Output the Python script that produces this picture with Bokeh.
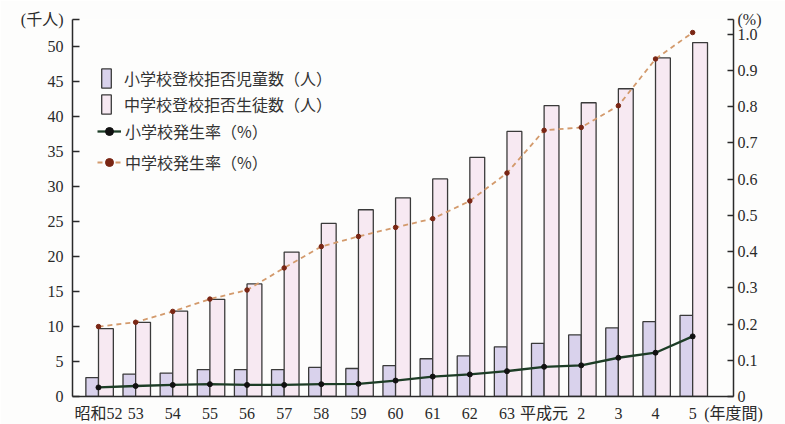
from bokeh.plotting import figure
from bokeh.models import (Range1d, LinearAxis, FixedTicker, Legend, LegendItem,
                          ColumnDataSource)
from bokeh.transform import dodge
from bokeh.embed import file_html
from bokeh.resources import INLINE

# School years (Showa 52 – Heisei 5)
years = ["昭和52", "53", "54", "55", "56", "57", "58", "59", "60", "61",
         "62", "63", "平成元", "2", "3", "4", "5"]

# Pupils refusing school (thousand persons)
elem_count = [2.7, 3.2, 3.35, 3.85, 3.85, 3.85, 4.15, 4.0, 4.4, 5.4,
              5.8, 7.1, 7.6, 8.8, 9.8, 10.7, 11.6]
junior_count = [9.7, 10.6, 12.2, 13.9, 16.1, 20.65, 24.75, 26.7, 28.4, 31.1,
                34.2, 37.9, 41.6, 42.0, 44.0, 48.4, 50.6]

# Incidence rate (%)
elem_rate = [0.025, 0.029, 0.032, 0.034, 0.032, 0.032, 0.034, 0.035, 0.044, 0.055,
             0.061, 0.070, 0.082, 0.086, 0.107, 0.121, 0.166]
junior_rate = [0.193, 0.205, 0.235, 0.269, 0.294, 0.355, 0.414, 0.442, 0.467, 0.491,
               0.540, 0.617, 0.735, 0.743, 0.803, 0.932, 1.005]

left_ticks = [0, 5, 10, 15, 20, 25, 30, 35, 40, 45, 50]
right_ticks = [0, 0.1, 0.2, 0.3, 0.4, 0.5, 0.6, 0.7, 0.8, 0.9, 1.0]

# Unit captions, shown at the far end of each axis
unit_count = "(千人)"
unit_rate = "(%)"
unit_year = "(年度間)"

X_START, X_END = -0.70, 17.10
Y_END = 53.9
PCT_END = 1.041

idx = list(range(len(years)))
src = ColumnDataSource(dict(idx=idx, elem=elem_count, junior=junior_count,
                            erate=elem_rate, jrate=junior_rate))

SERIF = "Liberation Serif, Noto Sans CJK JP"
CJK = "Noto Sans CJK JP"
INK = "#2a2a2a"
TICK_FONT = "16px"

p = figure(width=785, height=424, output_backend="svg", toolbar_location=None,
           x_range=Range1d(X_START, X_END), y_range=Range1d(0, Y_END),
           min_border_left=72, min_border_right=52, min_border_top=19,
           min_border_bottom=24, background_fill_color="#fdfdfc",
           border_fill_color="#fdfdfc", outline_line_color=None)
p.extra_y_ranges = {"pct": Range1d(0, PCT_END)}
p.grid.visible = False

# Bars
r_elem = p.vbar(x=dodge("idx", -0.17), top="elem", width=0.34, source=src,
                fill_color="#d9d2ec", line_color="#3a3a3a", line_width=1.3)
r_jun = p.vbar(x=dodge("idx", 0.20), top="junior", width=0.40, source=src,
               fill_color="#f7e9f2", line_color="#3a3a3a", line_width=1.3)

# Rate lines
r_eline = p.line("idx", "erate", source=src, y_range_name="pct",
                 line_color="#1d3d26", line_width=2.3)
r_edot = p.scatter("idx", "erate", source=src, y_range_name="pct",
                   size=5, fill_color="#111111", line_color="#111111")
r_jline = p.line("idx", "jrate", source=src, y_range_name="pct",
                 line_color="#d39a6c", line_width=1.8, line_dash="5 4")
r_jdot = p.scatter("idx", "jrate", source=src, y_range_name="pct",
                   size=4.5, fill_color="#7a2614", line_color="#7a2614")

# Axes
xa = p.xaxis[0]
xa.ticker = FixedTicker(ticks=idx + [X_END])
overrides = {i: lab for i, lab in enumerate(years)}
overrides[X_END] = unit_year
xa.major_label_overrides = overrides
xa.major_tick_line_color = None
xa.minor_tick_line_color = None
xa.axis_line_color = INK
xa.axis_line_width = 1.5
xa.major_label_standoff = 2
xa.major_label_text_font = SERIF
xa.major_label_text_font_size = TICK_FONT
xa.major_label_text_color = INK

ya = p.yaxis[0]
ya.ticker = FixedTicker(ticks=left_ticks + [Y_END])
ya.major_label_overrides = {Y_END: unit_count}
ya.minor_tick_line_color = None
ya.major_tick_in = 7
ya.major_tick_out = 0
ya.major_tick_line_color = INK
ya.major_tick_line_width = 1.3
ya.axis_line_color = INK
ya.axis_line_width = 1.5
ya.major_label_standoff = 9
ya.major_label_text_font = SERIF
ya.major_label_text_font_size = TICK_FONT
ya.major_label_text_color = INK

ra = LinearAxis(y_range_name="pct", ticker=FixedTicker(ticks=right_ticks + [PCT_END]))
ra.major_label_overrides = {0: "0", 1.0: "1.0", PCT_END: unit_rate}
ra.minor_tick_line_color = None
ra.major_tick_in = 6
ra.major_tick_out = 0
ra.major_tick_line_color = INK
ra.major_tick_line_width = 1.3
ra.axis_line_color = INK
ra.axis_line_width = 1.5
ra.major_label_standoff = 4
ra.major_label_text_font = SERIF
ra.major_label_text_font_size = TICK_FONT
ra.major_label_text_color = INK
p.add_layout(ra, "right")

# Legends
leg_bars = Legend(items=[LegendItem(label="小学校登校拒否児童数（人）", renderers=[r_elem]),
                         LegendItem(label="中学校登校拒否生徒数（人）", renderers=[r_jun])],
                  location=(28, 280), glyph_width=12, glyph_height=24, spacing=2,
                  label_standoff=12, padding=0, margin=0, border_line_color=None,
                  background_fill_alpha=0, label_text_font=CJK,
                  label_text_font_size="16px", label_text_color="#333333")
leg_lines = Legend(items=[LegendItem(label="小学校発生率（%）", renderers=[r_eline, r_edot]),
                          LegendItem(label="中学校発生率（%）", renderers=[r_jline, r_jdot])],
                   location=(25, 222), glyph_width=24, glyph_height=20, spacing=7,
                   label_standoff=4, padding=0, margin=0, border_line_color=None,
                   background_fill_alpha=0, label_text_font=CJK,
                   label_text_font_size="16px", label_text_color="#333333")
p.add_layout(leg_bars, "center")
p.add_layout(leg_lines, "center")

open("out.html", "w").write(file_html(p, INLINE))
